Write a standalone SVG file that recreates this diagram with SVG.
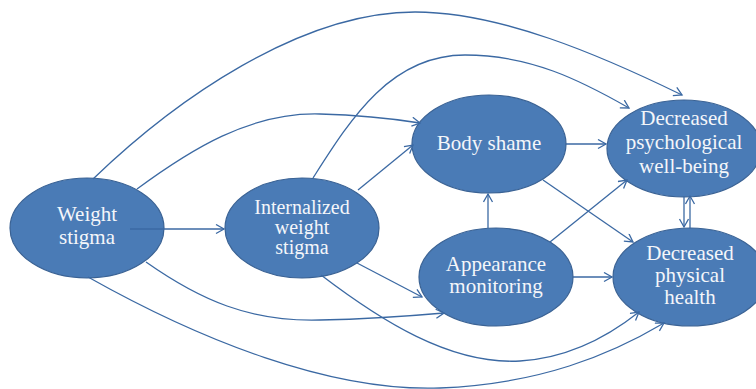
<svg xmlns="http://www.w3.org/2000/svg" width="756" height="389" viewBox="0 0 756 389">
<style>
.n{fill:#4a7bb6;stroke:#3a6294;stroke-width:1.2}
.t{font-family:"Liberation Serif","Times New Roman",serif;font-size:21px;fill:#f4f6fa;text-anchor:middle}
.s{font-size:20px}
.c path,.c line{fill:none;stroke:#3b69a3;stroke-width:1.3;marker-end:url(#a)}
</style>
<defs>
<marker id="a" markerUnits="userSpaceOnUse" markerWidth="12" markerHeight="12" refX="9" refY="5" orient="auto" viewBox="0 0 12 12">
<path d="M1,0.5 L9,5 L1,9.5" fill="none" stroke="#3b69a3" stroke-width="1.3"/>
</marker>
</defs>
<rect width="756" height="389" fill="#fff"/>
<g id="weight-stigma"><ellipse class="n" cx="87" cy="228" rx="77" ry="50"/><text class="t"><tspan x="87" y="221">Weight</tspan><tspan x="87" y="244">stigma</tspan></text></g>
<g id="internalized"><ellipse class="n" cx="302" cy="228" rx="77" ry="50"/><text class="t s"><tspan x="302" y="214">Internalized</tspan><tspan x="302" y="234">weight</tspan><tspan x="302" y="254">stigma</tspan></text></g>
<g id="body-shame"><ellipse class="n" cx="489" cy="144" rx="77" ry="49"/><text class="t" x="489" y="150">Body shame</text></g>
<g id="appearance"><ellipse class="n" cx="496" cy="277" rx="77" ry="49"/><text class="t"><tspan x="496" y="271">Appearance</tspan><tspan x="496" y="293">monitoring</tspan></text></g>
<g id="psych"><ellipse class="n" cx="684" cy="148.5" rx="77" ry="48.5"/><text class="t"><tspan x="684" y="125">Decreased</tspan><tspan x="684" y="149">psychological</tspan><tspan x="684" y="173">well-being</tspan></text></g>
<g id="physical"><ellipse class="n" cx="690" cy="277" rx="77" ry="49"/><text class="t"><tspan x="690" y="260">Decreased</tspan><tspan x="690" y="282">physical</tspan><tspan x="690" y="304">health</tspan></text></g>
<g class="c" id="connectors">
<line x1="130" y1="229" x2="224" y2="229"/>
<path d="M93,179 C175,100 300,12 415,12 C500,12 600,55 682,95"/>
<path d="M313,178 C350,120 390,55 465,55 C530,55 580,80 629,108"/>
<path d="M137,189 C190,150 250,112 320,114 C360,115 395,119 420,123"/>
<line x1="358" y1="190" x2="413" y2="145"/>
<line x1="357" y1="263" x2="422" y2="297"/>
<path d="M146,262 C200,300 250,322 320,320 C370,319 410,316 444,313"/>
<path d="M321,275 C380,320 450,365 520,361 C570,358 610,335 639,312"/>
<path d="M88,277 C200,340 330,392 440,388 C540,384 610,355 664,323"/>
<line x1="566" y1="144" x2="606" y2="144"/>
<line x1="543" y1="180" x2="633" y2="242"/>
<line x1="488" y1="228" x2="488" y2="194"/>
<line x1="550" y1="242" x2="627" y2="180"/>
<line x1="573" y1="277" x2="612" y2="277"/>
<line x1="684" y1="197" x2="684" y2="227"/>
<line x1="690" y1="228" x2="690" y2="196"/>
</g>
</svg>
